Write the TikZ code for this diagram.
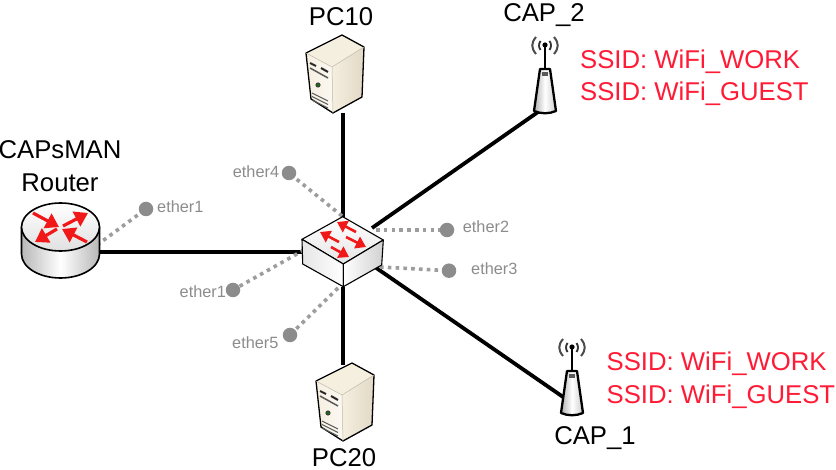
\documentclass[tikz,border=0pt]{standalone}
\usepackage{fontspec}
\setmainfont{Liberation Sans}
\usetikzlibrary{arrows.meta}
\definecolor{ssidred}{HTML}{FF1A35}
\definecolor{portgrey}{HTML}{8C8C8C}
\definecolor{arrowred}{HTML}{F01818}
\definecolor{creamA}{HTML}{F5EFE0}
\definecolor{creamB}{HTML}{E2D9C5}
\tikzset{
  link/.style={line width=3.8pt,black},
  portlink/.style={line width=3.6pt,portgrey!85,dash pattern=on 3.6pt off 4.2pt},
  portdot/.style={circle,fill=portgrey,inner sep=0pt,minimum size=14.5pt},
  portlabel/.style={text=portgrey,inner sep=0pt,anchor=base west,font=\fontsize{16.3}{19}\selectfont},
  devlabel/.style={text=black,inner sep=0pt,anchor=base,align=center,font=\fontsize{25.7}{33}\selectfont},
  ssidlabel/.style={text=ssidred,inner sep=0pt,anchor=base west,align=left,font=\fontsize{25.7}{32.4}\selectfont},
  outline/.style={draw=black,line width=1.1pt,line join=round},
  redarrow/.style={draw=arrowred,line width=3.2pt,-{Triangle[length=13pt,width=16pt,fill=arrowred]}},
  redarrowsmall/.style={draw=arrowred,line width=2.6pt,-{Triangle[length=10pt,width=12.5pt,fill=arrowred]}},
  pics/pctower/.style={code={
    \fill[creamA] (-36,18) -- (0,0) -- (22,12) -- (-10,32) -- cycle;
    \shade[left color=creamA,right color=white!60!creamA] (-36,18) -- (-10,32) -- (-9,78) -- (-31,64) -- cycle;
    \shade[left color=creamA,right color=creamB] (-10,32) -- (22,12) -- (20,62) -- (-9,78) -- cycle;
    \draw[outline,line width=1.3pt] (-36,18) -- (0,0) -- (22,12) -- (20,62) -- (-9,78) -- (-31,64) -- cycle;
    \draw[creamB!85!black,line width=.5pt] (-36,18) -- (-10,32) -- (22,12) (-10,32) -- (-9,78);
    \draw[black!85,line width=2pt] (-32,28) -- (-26,31) (-21,33) -- (-14,37);
    \draw[black!65,line width=1.5pt] (-32,33) -- (-14,43);
    \fill[black!75] (-24,50) circle (2.6);
    \fill[green!50!black] (-24,50) circle (1.3);
    \draw[black!65,line width=1pt] (-30,58) -- (-14,66) (-30,61.5) -- (-14,69.5) (-30,65) -- (-14,73);
  }},
  pics/aptower/.style={code={
    \draw[black!70,line width=2pt] (-9,-8) .. controls (-14,-2) and (-14,3) .. (-9,9);
    \draw[black!70,line width=2pt] (9,-8) .. controls (14,-2) and (14,3) .. (9,9);
    \draw[black!80,line width=1.8pt] (-4.5,-4) .. controls (-6.5,-1) and (-6.5,2) .. (-4.5,5);
    \draw[black!80,line width=1.8pt] (4.5,-4) .. controls (6.5,-1) and (6.5,2) .. (4.5,5);
    \draw[black,line width=2.4pt] (0,0) -- (0,24);
    \fill[black] (0,0) circle (2.6);
    \shade[left color=black!30,right color=black!20,middle color=white] (-5,24) -- (5,24) -- (11,66) .. controls (4,69) and (-4,69) .. (-11,66) -- cycle;
    \draw[black,line width=2.3pt,line join=round] (-5,24) -- (5,24) -- (11,66) .. controls (4,69) and (-4,69) .. (-11,66) -- cycle;
    \fill[black!65] (-3,27) rectangle (3,31);
  }}
}
\begin{document}
\begin{tikzpicture}[x=1pt,y=-1pt]
\useasboundingbox (0,0) rectangle (836,470);
\fill[white] (0,0) rectangle (836,470);
% connector end points
\coordinate (swL) at (302,251.7);
\coordinate (swT) at (342.7,217);
\coordinate (swB) at (343,287);
\coordinate (swTR) at (372,228);
\coordinate (swBR) at (372,265);
\coordinate (rtR) at (99,251.7);
\coordinate (rtP) at (97,245);
\coordinate (pc10b) at (342.7,113);
\coordinate (pc20t) at (343,365);
\coordinate (cap2b) at (538,112);
\coordinate (cap1b) at (566,399);
% port dots
\node[portdot] (d1) at (146,209) {};
\node[portdot] (d4) at (289,173) {};
\node[portdot] (d1b) at (233,290) {};
\node[portdot] (d5) at (290,335) {};
\node[portdot] (d2) at (447,230) {};
\node[portdot] (d3) at (449,270.7) {};
\coordinate (p4) at (342,216);
\coordinate (p1b) at (304,250);
\coordinate (p5) at (338,288);
\coordinate (p2) at (376,230);
\coordinate (p3) at (380,267);
% connectors
\draw[link] (rtR) -- (swL);
\draw[link] (pc10b) -- (swT);
\draw[link] (swB) -- (pc20t);
\draw[link] (swTR) -- (cap2b);
\draw[link] (swBR) -- (cap1b);
\draw[portlink] (rtP) -- (d1);
\draw[portlink] (p4) -- (d4);
\draw[portlink] (p1b) -- (d1b);
\draw[portlink] (p5) -- (d5);
\draw[portlink] (p2) -- (d2);
\draw[portlink] (p3) -- (d3);
% router
\shade[left color=black!28,right color=black!28,middle color=white]
  (21.5,227) -- (21.5,254) .. controls (21.5,267.25) and (39,278) .. (60.5,278)
  .. controls (82,278) and (99.5,267.25) .. (99.5,254) -- (99.5,227) -- cycle;
\draw[outline,line width=1.6pt]
  (21.5,227) -- (21.5,254) .. controls (21.5,267.25) and (39,278) .. (60.5,278)
  .. controls (82,278) and (99.5,267.25) .. (99.5,254) -- (99.5,227);
\shade[outline,line width=1.6pt,top color=white,bottom color=black!12] (60.5,227) ellipse [x radius=39,y radius=24];
\draw[redarrow] (33,213) -- (59,227);
\draw[redarrow] (63,226) -- (88,213);
\draw[redarrow] (87,242) -- (62,229);
\draw[redarrow] (57,229) -- (35,242);
% switch
\shade[top color=white,bottom color=black!10,outline] (342.7,216.7) -- (383.3,240) -- (343.3,264) -- (302,239.3) -- cycle;
\shade[left color=black!10,right color=white,outline] (302,239.3) -- (343.3,264) -- (343.3,286.7) -- (302.7,264) -- cycle;
\shade[left color=white,right color=black!18,outline] (343.3,264) -- (383.3,240) -- (381.7,265) -- (343.3,286.7) -- cycle;
\draw[redarrowsmall] (356,232) -- (337,222);
\draw[redarrowsmall] (339,242) -- (320,232);
\draw[redarrowsmall] (346,237) -- (366,247);
\draw[redarrowsmall] (331,247) -- (349,257);
% pcs and access points
\pic at (342,35) {pctower};
\pic at (352,363) {pctower};
\pic at (545,45) {aptower};
\pic at (572,347) {aptower};
% labels
\node[devlabel] (lrouter) at (60,192) {CAPsMAN\\Router};
\node[devlabel] (lpc10) at (341,26) {PC10};
\node[devlabel] (lpc20) at (344,466.5) {PC20};
\node[devlabel] (lcap2) at (544,22) {CAP\_2};
\node[devlabel] (lcap1) at (595,445) {CAP\_1};
\node[ssidlabel] (s2) at (580,100.7) {SSID: WiFi\_WORK\\SSID: WiFi\_GUEST};
\node[ssidlabel] (s1) at (606.5,403) {SSID: WiFi\_WORK\\SSID: WiFi\_GUEST};
\node[portlabel] (t1) at (157,212.7) {ether1};
\node[portlabel] (t4) at (232.7,178) {ether4};
\node[portlabel] (t1b) at (179.5,297.7) {ether1};
\node[portlabel] (t5) at (232,349) {ether5};
\node[portlabel] (t2) at (462.7,233) {ether2};
\node[portlabel] (t3) at (471,275) {ether3};
\end{tikzpicture}
\end{document}
